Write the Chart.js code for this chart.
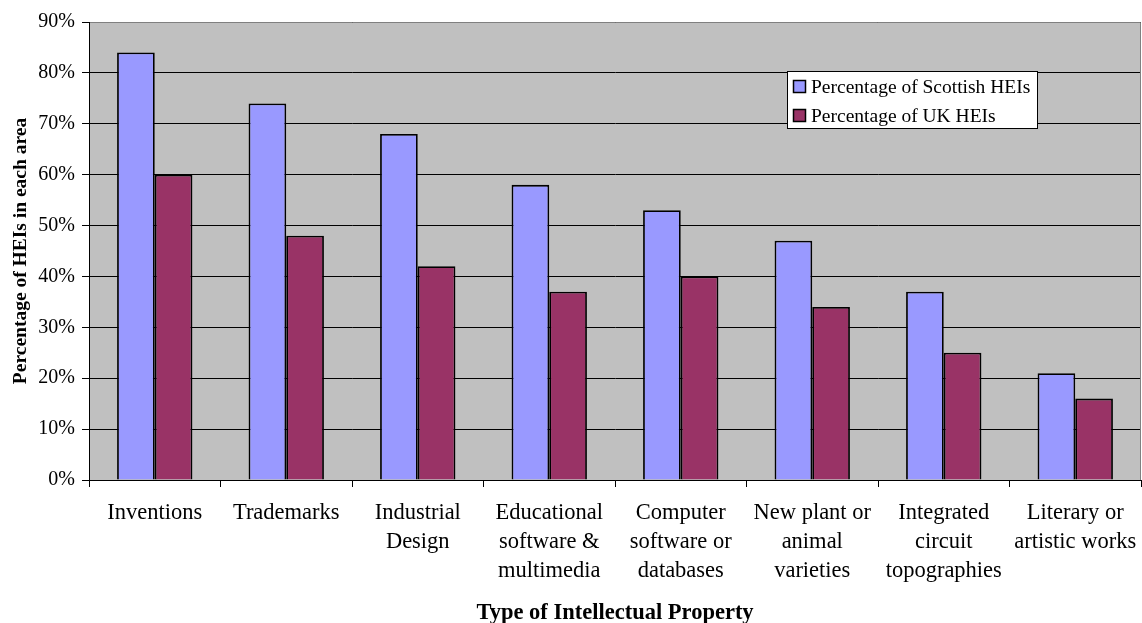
<!DOCTYPE html>
<html>
<head>
<meta charset="utf-8">
<script src="https://cdn.jsdelivr.net/npm/chart.js@4"></script>
<style>
  html, body { margin: 0; padding: 0; background: #fff; }
  #wrap { width: 1142px; height: 623px; }
</style>
</head>
<body>
<div id="wrap"><canvas id="c" width="1142" height="623"></canvas></div>
<script>
// Categories of intellectual property (multi-line labels)
const categories = [
  ['Inventions'],
  ['Trademarks'],
  ['Industrial', 'Design'],
  ['Educational', 'software &', 'multimedia'],
  ['Computer', 'software or', 'databases'],
  ['New plant or', 'animal', 'varieties'],
  ['Integrated', 'circuit', 'topographies'],
  ['Literary or', 'artistic works']
];

// Share of institutions active in each area (%)
const scottishHEIs = [84, 74, 68, 58, 53, 47, 37, 21];
const ukHEIs = [60, 48, 42, 37, 40, 34, 25, 16];

const seriesNames = ['Percentage of Scottish HEIs', 'Percentage of UK HEIs'];
const yTicks = [0, 10, 20, 30, 40, 50, 60, 70, 80, 90];

const FONT = "'Liberation Serif', 'Times New Roman', serif";

// Grey plot background with a thin grey frame on the top and right
const plotBackground = {
  id: 'plotBackground',
  beforeDraw(chart) {
    const { ctx, chartArea: a } = chart;
    ctx.save();
    ctx.fillStyle = '#C0C0C0';
    ctx.fillRect(a.left, a.top, a.right - a.left, a.bottom - a.top);
    ctx.restore();
  },
  afterDatasetsDraw(chart) {
    const { ctx, chartArea: a } = chart;
    ctx.save();
    ctx.strokeStyle = '#808080';
    ctx.lineWidth = 1;
    ctx.beginPath();
    ctx.moveTo(a.left + 1, a.top + 0.5);
    ctx.lineTo(a.right - 0.5, a.top + 0.5);
    ctx.lineTo(a.right - 0.5, a.bottom);
    ctx.stroke();
    ctx.restore();
  }
};

// Boxed legend drawn inside the plot area
const boxedLegend = {
  id: 'boxedLegend',
  afterDatasetsDraw(chart) {
    const { ctx } = chart;
    const x = 787, y = 71, w = 251, h = 58;
    ctx.save();
    ctx.fillStyle = '#fff';
    ctx.fillRect(x, y, w, h);
    ctx.strokeStyle = '#000';
    ctx.lineWidth = 1;
    ctx.strokeRect(x + 0.5, y + 0.5, w - 1, h - 1);
    ctx.font = '19.5px ' + FONT;
    ctx.textBaseline = 'middle';
    chart.data.datasets.forEach((ds, i) => {
      const cy = y + 16 + i * 29;
      ctx.fillStyle = ds.backgroundColor;
      ctx.fillRect(x + 6.5, cy - 6.5, 12, 12);
      ctx.strokeStyle = '#000';
      ctx.lineWidth = 1.5;
      ctx.strokeRect(x + 6.5, cy - 6.5, 12, 12);
      ctx.fillStyle = '#000';
      ctx.fillText(ds.label, x + 24, cy + 1);
    });
    ctx.restore();
  }
};

new Chart(document.getElementById('c'), {
  type: 'bar',
  data: {
    labels: categories,
    datasets: [
      {
        label: seriesNames[0],
        data: scottishHEIs,
        backgroundColor: '#9999FF',
        borderColor: '#000',
        borderWidth: 1.8,
        borderSkipped: 'bottom'
      },
      {
        label: seriesNames[1],
        data: ukHEIs,
        backgroundColor: '#993366',
        borderColor: '#000',
        borderWidth: 1.8,
        borderSkipped: 'bottom'
      }
    ]
  },
  options: {
    responsive: false,
    animation: false,
    devicePixelRatio: 1,
    layout: { padding: { top: 22, right: 1, left: 0, bottom: 0 } },
    datasets: { bar: { categoryPercentage: 0.573, barPercentage: 1.0 } },
    plugins: {
      legend: { display: false },
      tooltip: { enabled: false }
    },
    scales: {
      x: {
        grid: {
          offset: true,
          drawOnChartArea: false,
          drawTicks: true,
          tickLength: 7,
          color: '#000'
        },
        border: { display: true, color: '#000', width: 1 },
        ticks: {
          color: '#000',
          font: { family: FONT, size: 22.5, lineHeight: 1.29 },
          padding: 12,
          maxRotation: 0,
          autoSkip: false
        },
        title: {
          display: true,
          text: 'Type of Intellectual Property',
          color: '#000',
          font: { family: FONT, size: 22.5, weight: 'bold', lineHeight: 0.9 },
          padding: { top: 0, bottom: 0 }
        },
        afterFit(scale) {
          scale.height = 623 - 480;
          scale.paddingLeft = 0;
          scale.paddingRight = 0;
        }
      },
      y: {
        min: 0,
        max: 90,
        afterBuildTicks(scale) { scale.ticks = yTicks.map(v => ({ value: v })); },
        grid: {
          color: '#000',
          lineWidth: 1,
          drawTicks: true,
          tickLength: 7,
          z: 0
        },
        border: { display: true, color: '#000', width: 1 },
        ticks: {
          color: '#000',
          font: { family: FONT, size: 20 },
          padding: 7,
          callback: v => v + '%'
        },
        title: {
          display: true,
          text: 'Percentage of HEIs in each area',
          color: '#000',
          font: { family: FONT, size: 19.5, weight: 'bold', lineHeight: 1.2 },
          padding: { top: 9, bottom: 0 }
        },
        afterFit(scale) {
          scale.width = 89;
          scale.paddingTop = 0;
          scale.paddingBottom = 0;
        }
      }
    }
  },
  plugins: [plotBackground, boxedLegend]
});
</script>
</body>
</html>
